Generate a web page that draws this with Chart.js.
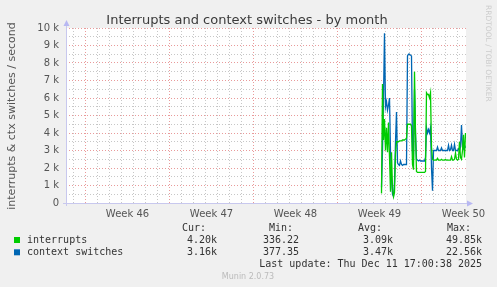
<!DOCTYPE html>
<html>
<head>
<meta charset="utf-8">
<script src="https://cdn.jsdelivr.net/npm/chart.js@4/dist/chart.umd.min.js"></script>
<style>
  html, body { margin: 0; padding: 0; background: #f0f0f0; }
  canvas { display: block; }
</style>
</head>
<body>
<canvas id="chart" width="497" height="287"></canvas>
<script>
// x is hours since Mon 10 Nov 2025 00:00 (start of week 46), one sample per 2 h
const sampleStart = 592;
const sampleStep = 2;

// values per second, in thousands
const interrupts = [
  0.55, 6.8, 3.6, 4.8, 3.0, 4.3, 2.9, 4.6, 2.6, 0.65,
  2.9, 0.8, 0.36, 0.6, 2.8, 3.5, 3.5, 3.5, 3.55, 3.55,
  3.55, 3.6, 3.6, 3.6, 3.65, 3.7, 4.5, 4.5, 4.5, 4.5,
  4.4, 2.2, 1.9, 7.5, 4.0, 1.8, 1.75, 1.75, 1.75, 1.75,
  1.75, 1.75, 1.75, 1.75, 1.8, 6.3, 6.2, 6.2, 6.0, 6.3,
  3.2, 2.5, 2.45, 2.45, 2.45, 2.45, 2.55, 2.45, 2.45, 2.45,
  2.5, 2.45, 2.45, 2.45, 2.5, 2.45, 2.45, 2.45, 2.45, 2.45,
  2.65, 2.45, 2.45, 2.5, 2.85, 2.5, 2.45, 2.5, 3.5, 2.6,
  2.5, 3.0, 3.9, 2.6, 4.0
];
const ctxSwitches = [
  0.9, 3.0, 6.0, 9.7, 5.5, 5.8, 5.3, 5.6, 6.0, 2.9,
  1.5, 0.5, 0.38, 1.2, 3.5, 5.2, 2.3, 2.2, 2.15, 2.4,
  2.2, 2.15, 2.2, 2.2, 2.2, 2.2, 8.4, 8.5, 8.5, 8.45,
  8.4, 3.0, 2.5, 6.5, 4.0, 2.5, 2.45, 2.4, 2.45, 2.4,
  2.4, 2.4, 2.4, 2.4, 2.6, 4.3, 4.0, 4.2, 4.0, 4.3,
  2.0, 0.7, 3.0, 3.0, 3.0, 3.0, 3.2, 3.0, 3.0, 3.0,
  3.15, 3.0, 3.0, 3.0, 3.0, 3.0, 3.0, 3.3, 3.0, 3.05,
  3.3, 3.0, 3.0, 3.35, 3.0, 3.0, 3.0, 3.1, 3.0, 3.2,
  4.45, 3.2, 3.1, 3.3, 3.16
];

const weekLabels = ['Week 46', 'Week 47', 'Week 48', 'Week 49', 'Week 50'];
const weekCenters = [84, 252, 420, 588, 756];
const dayLines = [-24, 0, 24, 48, 72, 96, 120, 144, 168, 192, 216, 240, 264, 288, 312, 336,
  360, 384, 408, 432, 456, 480, 504, 528, 552, 576, 600, 624, 648, 672, 696, 720, 744];

const seriesNames = ['interrupts', 'context switches'];
const seriesColors = ['#00cc00', '#0066b3'];
const curValues = ['4.20k', '3.16k'];
const minValues = ['336.22', '377.35'];
const avgValues = ['3.09k', '3.47k'];
const maxValues = ['49.85k', '22.56k'];

const toPoints = vals => vals.map((v, i) => ({ x: sampleStart + i * sampleStep, y: v }));

const majorGrid = 'rgba(225,120,120,0.75)';
const minorGrid = 'rgba(185,185,185,0.8)';
const tickFont = { family: '"DejaVu Sans"', size: 10 };

// background, axis arrows and all the rrdtool style text
const munin = {
  id: 'munin',
  beforeDraw(chart) {
    const { ctx, chartArea: a } = chart;
    ctx.save();
    ctx.fillStyle = '#f0f0f0';
    ctx.fillRect(0, 0, chart.width, chart.height);
    ctx.fillStyle = '#ffffff';
    ctx.fillRect(a.left, a.top, a.right - a.left, a.bottom - a.top);
    ctx.restore();
  },
  afterDraw(chart) {
    const { ctx, chartArea: a } = chart;
    ctx.save();

    // axes
    ctx.strokeStyle = '#c8c8ee';
    ctx.lineWidth = 1;
    ctx.beginPath();
    ctx.moveTo(a.left - 3, a.bottom + 0.5);
    ctx.lineTo(a.right + 2, a.bottom + 0.5);
    ctx.moveTo(a.left + 0.5, a.bottom + 3);
    ctx.lineTo(a.left + 0.5, a.top - 3);
    ctx.stroke();
    ctx.fillStyle = '#b8b8f2';
    ctx.beginPath();
    ctx.moveTo(a.right + 7, a.bottom + 0.5);
    ctx.lineTo(a.right + 1, a.bottom - 2.5);
    ctx.lineTo(a.right + 1, a.bottom + 3.5);
    ctx.fill();
    ctx.beginPath();
    ctx.moveTo(a.left + 0.5, a.top - 8);
    ctx.lineTo(a.left - 2.5, a.top - 2);
    ctx.lineTo(a.left + 3.5, a.top - 2);
    ctx.fill();

    // title
    ctx.fillStyle = '#3a3a3a';
    ctx.font = '13px "DejaVu Sans"';
    ctx.textAlign = 'center';
    ctx.textBaseline = 'alphabetic';
    ctx.fillText('Interrupts and context switches - by month', 247, 24);

    // y axis title
    ctx.save();
    ctx.translate(15, 116);
    ctx.rotate(-Math.PI / 2);
    ctx.fillStyle = '#555';
    ctx.font = '11px "DejaVu Sans"';
    ctx.fillText('interrupts & ctx switches / second', 0, 0);
    ctx.restore();

    // watermark
    ctx.save();
    ctx.translate(485.5, 5);
    ctx.rotate(Math.PI / 2);
    ctx.fillStyle = '#cccccc';
    ctx.font = '7.5px "DejaVu Sans"';
    ctx.textAlign = 'left';
    ctx.fillText('RRDTOOL / TOBI OETIKER', 0, 0);
    ctx.restore();

    // legend table
    ctx.font = '10px "DejaVu Sans Mono"';
    ctx.fillStyle = '#333';
    ctx.textAlign = 'left';
    ctx.fillText('Cur:', 182, 231);
    ctx.fillText('Min:', 269, 231);
    ctx.fillText('Avg:', 358, 231);
    ctx.fillText('Max:', 447, 231);
    seriesNames.forEach((name, i) => {
      const y = 243 + i * 12.3;
      ctx.fillStyle = seriesColors[i];
      ctx.fillRect(14, y - 6, 6, 6);
      ctx.fillStyle = '#333';
      ctx.textAlign = 'left';
      ctx.fillText(name, 27, y);
      ctx.textAlign = 'right';
      ctx.fillText(curValues[i], 217, y);
      ctx.fillText(minValues[i], 299, y);
      ctx.fillText(avgValues[i], 393, y);
      ctx.fillText(maxValues[i], 482, y);
    });
    ctx.fillText('Last update: Thu Dec 11 17:00:38 2025', 482, 267);

    ctx.font = '8px "DejaVu Sans"';
    ctx.fillStyle = '#bbbbbb';
    ctx.textAlign = 'center';
    ctx.fillText('Munin 2.0.73', 248, 279);
    ctx.restore();
  }
};

new Chart(document.getElementById('chart'), {
  type: 'line',
  data: {
    datasets: [
      { label: seriesNames[0], data: toPoints(interrupts), borderColor: seriesColors[0],
        borderWidth: 1.3, pointRadius: 0, tension: 0, fill: false },
      { label: seriesNames[1], data: toPoints(ctxSwitches), borderColor: seriesColors[1],
        borderWidth: 1.3, pointRadius: 0, tension: 0, fill: false }
    ]
  },
  options: {
    responsive: false,
    animation: false,
    devicePixelRatio: 1,
    layout: { padding: { top: 28, right: 31, left: 0, bottom: 0 } },
    plugins: {
      legend: { display: false },
      tooltip: { enabled: false },
      title: { display: false }
    },
    scales: {
      x: {
        type: 'linear',
        min: -39,
        max: 761,
        afterBuildTicks: s => {
          s.ticks = dayLines.concat(weekCenters).sort((a, b) => a - b).map(v => ({ value: v }));
        },
        afterFit: s => { s.height = 84; },
        grid: {
          drawTicks: false,
          lineWidth: 1,
          color: c => {
            const v = c.tick && c.tick.value;
            if (v % 168 === 0) return majorGrid;
            if (v % 24 === 0) return minorGrid;
            return 'rgba(0,0,0,0)';
          }
        },
        border: { display: false, dash: [1, 2] },
        ticks: {
          autoSkip: false,
          maxRotation: 0,
          padding: 5,
          color: '#555',
          font: tickFont,
          callback: v => {
            const i = weekCenters.indexOf(v);
            return i >= 0 ? weekLabels[i] : '';
          }
        }
      },
      y: {
        min: 0,
        max: 10,
        afterFit: s => { s.width = 66; },
        grid: {
          drawTicks: false,
          lineWidth: 1,
          color: c => {
            const v = c.tick && c.tick.value;
            return Math.abs(v - Math.round(v)) < 1e-6 ? majorGrid : minorGrid;
          }
        },
        border: { display: false, dash: [1, 2] },
        ticks: {
          stepSize: 0.5,
          autoSkip: false,
          padding: 7,
          color: '#555',
          font: tickFont,
          callback: v => {
            if (Math.abs(v - Math.round(v)) > 1e-6) return '';
            return v === 0 ? '0' : Math.round(v) + ' k';
          }
        }
      }
    }
  },
  plugins: [munin]
});
</script>
</body>
</html>
